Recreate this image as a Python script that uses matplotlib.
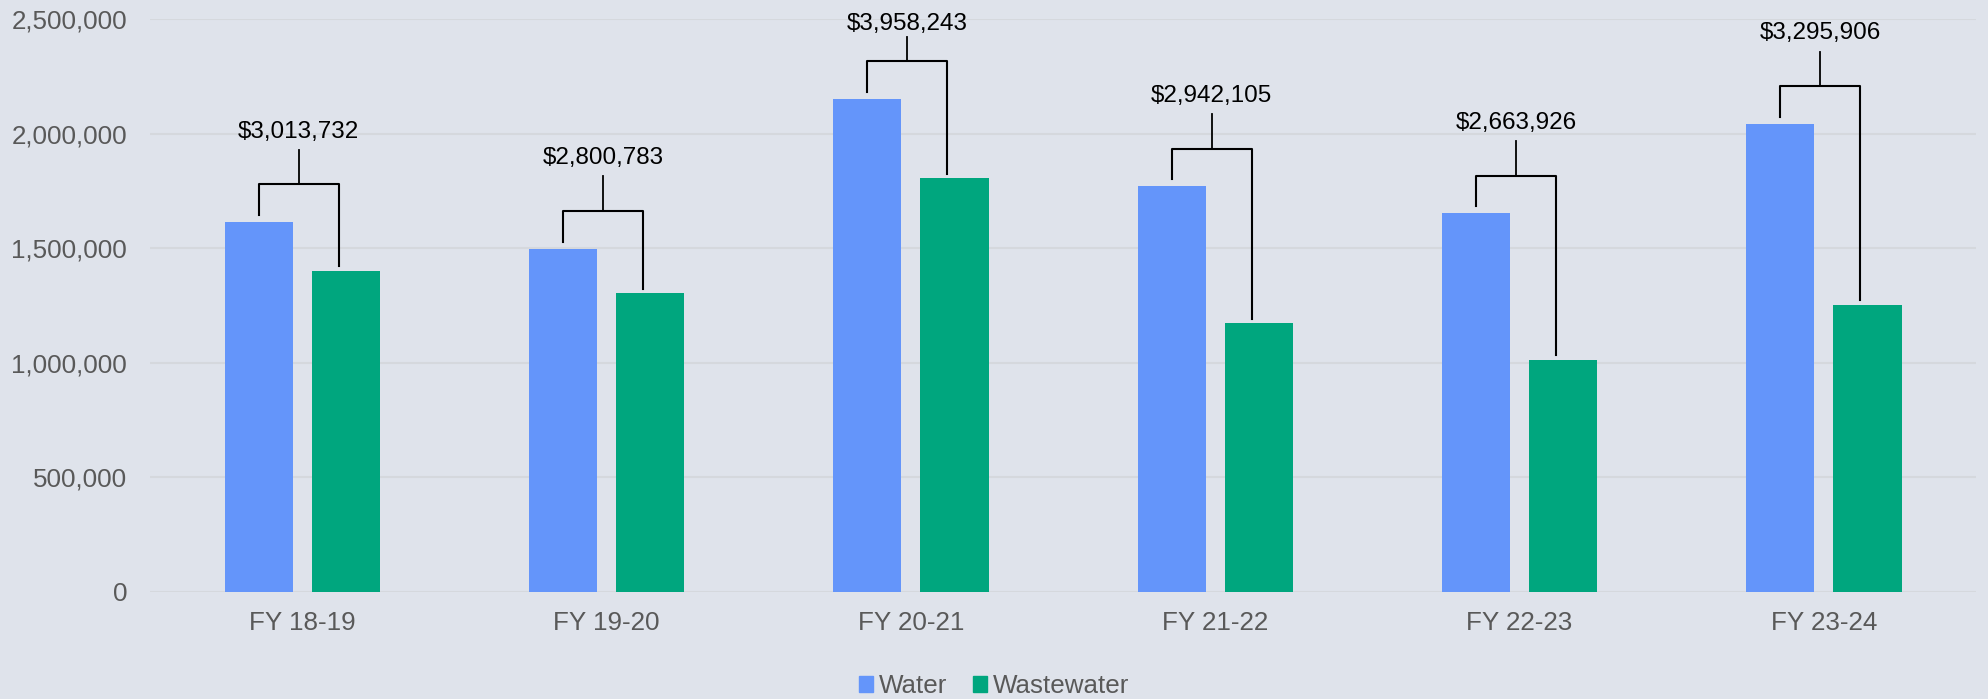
import numpy as np
import matplotlib.pyplot as plt
from matplotlib.patches import Patch

plt.rcParams['font.family'] = ['Liberation Sans', 'DejaVu Sans']

years = ['FY 18-19', 'FY 19-20', 'FY 20-21', 'FY 21-22', 'FY 22-23', 'FY 23-24']
water = [1613000, 1498000, 2153000, 1770000, 1652000, 2043000]
wastewater = [1400732, 1302783, 1805243, 1172105, 1011926, 1252906]
totals = [3013732, 2800783, 3958243, 2942105, 2663926, 3295906]

bg = '#dfe3eb'
c_water = '#6495fa'
c_ww = '#00a67e'

fig = plt.figure(figsize=(19.88, 6.99), dpi=100, facecolor=bg)
ax = fig.add_axes([0.0755, 0.1531, 0.9185, 0.8197], facecolor=bg)

x = np.arange(len(years))
w = 0.224
off = 0.143
ax.bar(x - off, water, w, color=c_water, zorder=2)
ax.bar(x + off, wastewater, w, color=c_ww, zorder=2)

# brackets with total labels
for i in range(len(years)):
    top = max(water[i], wastewater[i])
    yb = top + 165000
    ys = min(yb + 150000, 2420000)
    xl = i - off
    xr = i + 0.12
    xm = (xl + xr) / 2
    ax.plot([xl, xl, xr, xr], [water[i] + 30000, yb, yb, wastewater[i] + 20000],
            color='black', lw=1.5, zorder=3, clip_on=False)
    ax.plot([xm, xm], [yb, ys], color='black', lw=1.3, zorder=3, clip_on=False)
    ax.text(xm, min(ys + 80000, 2478000), '${:,}'.format(totals[i]), ha='center', va='center',
            fontsize=17.5, color='black', clip_on=False)

ax.set_xlim(-0.5, len(years) - 0.5)
ax.set_ylim(0, 2500000)
ax.set_yticks(np.arange(0, 2500001, 500000))
ax.yaxis.set_major_formatter(plt.FuncFormatter(lambda v, p: '{:,.0f}'.format(v)))
ax.set_xticks(x)
ax.set_xticklabels(years)
ax.tick_params(axis='both', length=0, labelsize=18.7, labelcolor='#595959')
ax.tick_params(axis='y', pad=16.5)
ax.tick_params(axis='x', pad=14)
ax.grid(axis='y', color='#d5d8dd', lw=1.5, zorder=0)
for s in ax.spines.values():
    s.set_visible(False)

handles = [Patch(color=c_water, label='Water'), Patch(color=c_ww, label='Wastewater')]
fig.legend(handles=handles, loc='lower center', bbox_to_anchor=(0.5, -0.032), ncol=2,
           frameon=False, fontsize=18.7, handlelength=0.54, handleheight=0.54,
           handletextpad=0.23, columnspacing=1.0, labelcolor='#595959')

plt.savefig('out.png', dpi=100, facecolor=bg)
